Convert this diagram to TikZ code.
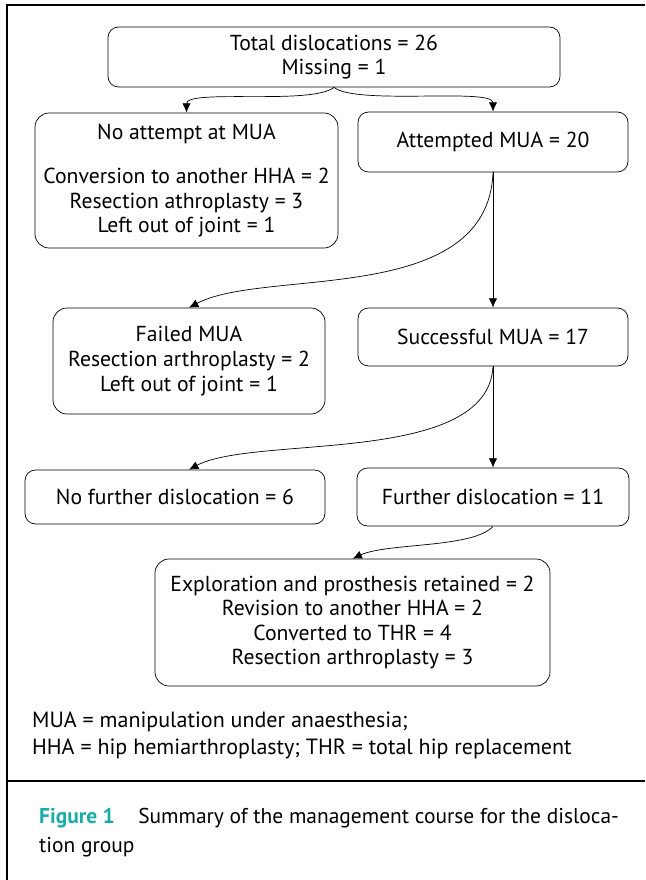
\documentclass[tikz,border=0pt]{standalone}
\usepackage{fontspec}
\setmainfont{PT Sans}
\usepackage{tikz}
\usetikzlibrary{arrows.meta}
\usetikzlibrary{calc}
\definecolor{figteal}{RGB}{24,172,168}

\begin{document}
\begin{tikzpicture}[>/.tip={Latex[length=8pt,width=7pt]},x=0.03cm,y=-0.03cm,
	every node/.style={font=\fontsize{18.5}{21}\selectfont},
	box/.style={draw,rounded corners=9pt,align=center,line width=0.6pt,inner sep=0pt},
	link/.style={->,line width=0.6pt}]
	\useasboundingbox (0,0) rectangle (645,880);
	% frame
	\draw[line width=2.4pt] (645,5) -- (7,5) -- (7,880);
	\draw[line width=2.4pt] (7,781) -- (645,781);
	% boxes
	\draw (334,57) node (total) [box,minimum width=13.56cm,minimum height=1.8cm] {Total dislocations = 26\\Missing = 1};
	\draw (186.5,180.5) node (noatt) [box,rounded corners=12pt,minimum width=9.09cm,minimum height=4.05cm] {No attempt at MUA\\[17pt]Conversion to another HHA = 2\\Resection athroplasty = 3\\Left out of joint = 1};
	\draw (493,142) node (att) [box,minimum width=8.1cm,minimum height=1.8cm] {Attempted MUA = 20};
	\draw (189,361) node (fail) [box,rounded corners=12pt,minimum width=8.16cm,minimum height=3.18cm] {Failed MUA\\Resection arthroplasty = 2\\Left out of joint = 1};
	\draw (493,337) node (succ) [box,minimum width=8.1cm,minimum height=1.74cm] {Successful MUA = 17};
	\draw (175,497) node (nofur) [box,minimum width=9cm,minimum height=1.62cm] {No further dislocation = 6};
	\draw (493,497) node (fur) [box,minimum width=8.16cm,minimum height=1.74cm] {Further dislocation = 11};
	\draw (352.5,622.5) node (expl) [box,rounded corners=12pt,minimum width=11.85cm,minimum height=3.81cm] {Exploration and prosthesis retained = 2\\Revision to another HHA = 2\\Converted to THR = 4\\Resection arthroplasty = 3};
	% connectors
	\draw[link] (total.south) .. controls +(-22,18) and +(0,-24) .. (noatt.north);
	\draw[link] (total.south) .. controls +(22,18) and +(0,-24) .. (att.north);
	\draw[link] (att.south) .. controls +(-5,135) and +(75,-40) .. (fail.north);
	\path[link] (att) edge (succ);
	\draw[link] (succ.south) .. controls +(-5,100) and +(65,-35) .. (fail.south |- nofur.north);
	\path[link] (succ) edge (fur);
	\draw[link] (fur.south) .. controls +(-20,22) and +(35,-16) .. (expl.north);
	% legend and caption
	\draw (28,735) node (legend) [anchor=west,align=left,font=\fontsize{18.8}{23}\selectfont] {MUA = manipulation under anaesthesia;\\HHA = hip hemiarthroplasty; THR = total hip replacement};
	\draw (35,832.5) node (caption) [anchor=west,align=left,font=\fontsize{18.3}{25}\selectfont] {\textcolor{figteal}{\bfseries Figure 1}\hspace{20pt}Summary of the management course for the disloca-\\tion group};
\end{tikzpicture}
\end{document}
